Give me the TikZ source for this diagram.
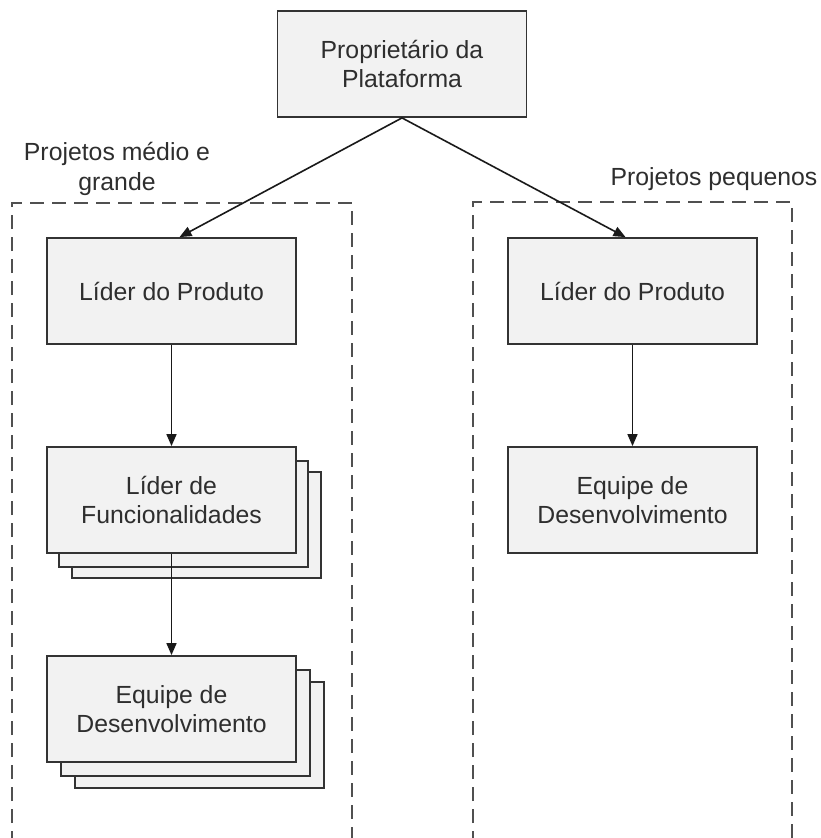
\documentclass[tikz,border=0pt]{standalone}
\usepackage{fontspec}
\setmainfont{Liberation Sans}
\usetikzlibrary{arrows.meta,calc}
\definecolor{boxfill}{HTML}{F2F2F2}
\definecolor{boxline}{HTML}{333333}
\definecolor{txt}{HTML}{2E2E2E}
\definecolor{dashc}{HTML}{505050}
\begin{document}
\begin{tikzpicture}[x=1pt,y=-1pt,
  role/.style={draw=boxline,fill=boxfill,line width=1.8pt,minimum width=249pt,
    minimum height=106pt,align=center,text=txt,inner sep=0pt,
    font=\fontsize{24.8}{28.5}\selectfont},
  group/.style={draw=dashc,line width=2.2pt,dash pattern=on 14pt off 8pt},
  link/.style={draw=black!90,line width=1.6pt,-{Triangle[length=12pt,width=10pt]}},
  lbl/.style={text=txt,align=center,inner sep=0pt,font=\fontsize{24.8}{30}\selectfont}]
\useasboundingbox (0,0) rectangle (820,838);

% dashed group frames, open at the bottom
\draw[group] (12,845) |- (352,203) -- (352,845);
\draw[group] (473,845) |- (792,202) -- (792,845);

% group captions
\node[lbl] (capL) at (117,169) {Projetos médio e\\grande};
\node[lbl] (capR) at (714,179) {Projetos pequenos};

% top role
\node[role] (owner) at (402,64) {Proprietário da\\Plataforma};

% medium and large projects
\node[role] (lpl) at (171.5,291) {Líder do Produto};
\node[role] (lfnB) at (196.5,525) {};
\node[role] (lfnA) at (183.5,514) {};
\node[role] (lfn) at (171.5,500) {Líder de\\Funcionalidades};
\node[role] (ldevB) at (199.5,735) {};
\node[role] (ldevA) at (185.5,723) {};
\node[role] (ldev) at (171.5,709) {Equipe de\\Desenvolvimento};

% small projects
\node[role] (rpl) at (632.5,291) {Líder do Produto};
\node[role] (rdev) at (632.5,500) {Equipe de\\Desenvolvimento};

% connectors
\draw[link] (owner.south) -- ($(lpl.north)+(8,0)$);
\draw[link] (owner.south) -- ($(rpl.north)+(-7,0)$);
\draw[link] (lpl.south) -- (lfn.north);
\draw[link] (lfn.south) -- (ldev.north);
\draw[link] (rpl.south) -- (rdev.north);
\end{tikzpicture}
\end{document}
